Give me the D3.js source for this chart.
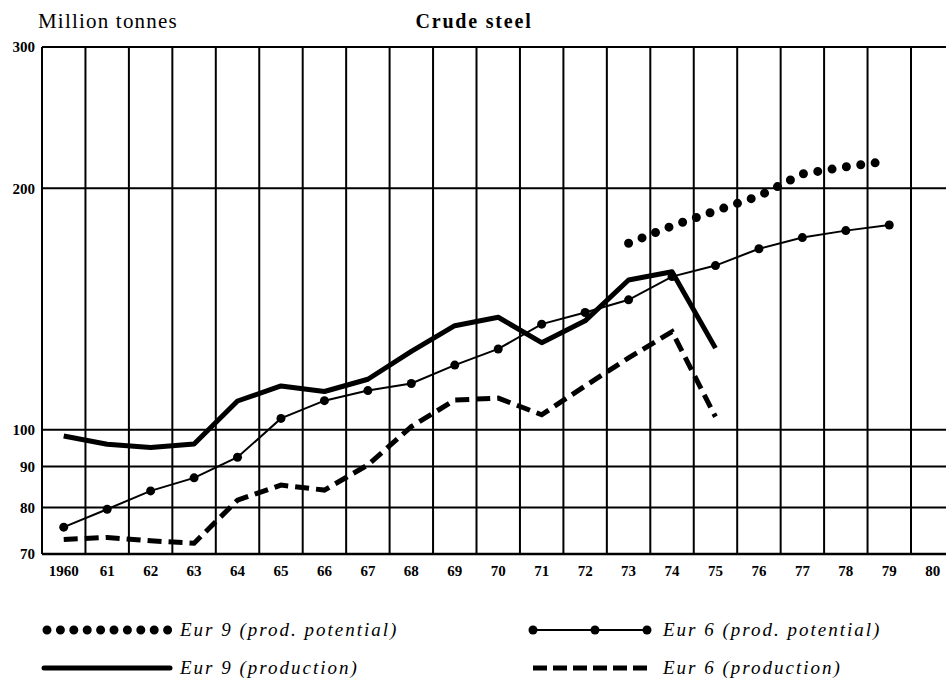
<!DOCTYPE html>
<html>
<head>
<meta charset="utf-8">
<script src="https://cdn.jsdelivr.net/npm/d3@7"></script>
<style>
  body { margin: 0; background: #fff; }
  svg { display: block; font-family: "Liberation Serif", "DejaVu Serif", serif; }
</style>
</head>
<body>
<svg id="chart"></svg>
<script>

// categories
var years = d3.range(1960, 1981);
var yTicks = [70, 80, 90, 100, 200, 300];

// series values (million tonnes)
var eur6PotentialYears = d3.range(1960, 1980);
var eur6Potential = [75.6, 79.6, 83.9, 87.1, 92.4, 103.3, 108.7, 111.9, 114.2, 120.4,
                     126.1, 135.4, 140.0, 145.2, 155.2, 160.2, 168.1, 173.6, 177.1, 180.0];

var eur9PotentialYears = d3.range(1973, 1980);
var eur9Potential = [170.8, 179.5, 187.4, 195.6, 208.4, 212.7, 216.3];

var productionYears = d3.range(1960, 1976);
var eur9Production = [98.2, 95.9, 95.0, 96.0, 108.6, 113.4, 111.6, 115.6, 125.2, 134.8,
                      138.1, 128.4, 136.7, 153.7, 157.4, 126.4];
var eur6Production = [73.0, 73.4, 72.7, 72.2, 81.7, 85.3, 84.1, 90.4, 100.9, 108.9,
                      109.5, 104.4, 113.4, 122.9, 132.5, 103.8];

var svgWidth = 946;
var svgHeight = 688;

var svg = d3.select('#chart')
    .attr("width", svgWidth)
    .attr("height", svgHeight);

var plotLeft = 42, plotTop = 47, plotBottom = 554, bandW = 43.45;

var xScale = d3.scaleBand()
    .domain(years)
    .range([plotLeft, plotLeft + bandW * years.length])
    .padding(0);

var yScale = d3.scaleLog()
    .domain([70, 300])
    .range([plotBottom, plotTop]);

function cx(yr) { return xScale(yr) + xScale.bandwidth() / 2; }

// grid
var grid = svg.append("g");

grid.selectAll("line.h")
    .data(yTicks)
    .enter()
    .append("line")
    .attr("x1", plotLeft)
    .attr("x2", svgWidth)
    .attr("y1", d => yScale(d))
    .attr("y2", d => yScale(d))
    .attr("stroke", "#000")
    .attr("stroke-width", d => d == 70 ? 2.5 : 2);

grid.selectAll("line.v")
    .data(years)
    .enter()
    .append("line")
    .attr("x1", d => xScale(d))
    .attr("x2", d => xScale(d))
    .attr("y1", plotTop)
    .attr("y2", plotBottom)
    .attr("stroke", "#000")
    .attr("stroke-width", 2);

// axes (labels only)
var yAxis = d3.axisLeft(yScale)
    .tickValues(yTicks)
    .tickFormat(d3.format("d"))
    .tickSize(0)
    .tickPadding(7);

svg.append("g")
    .attr("transform", "translate(" + plotLeft + ",0)")
    .call(yAxis)
    .call(g => g.select(".domain").remove())
    .selectAll("text")
    .attr("font-family", "Liberation Serif, serif")
    .attr("font-weight", "bold")
    .attr("font-size", 15)
    .attr("fill", "#000");

var xAxis = d3.axisBottom(xScale)
    .tickFormat(d => d == 1960 ? "1960" : String(d).slice(2))
    .tickSize(0)
    .tickPadding(11);

svg.append("g")
    .attr("transform", "translate(0," + plotBottom + ")")
    .call(xAxis)
    .call(g => g.select(".domain").remove())
    .selectAll("text")
    .attr("font-family", "Liberation Serif, serif")
    .attr("font-weight", "bold")
    .attr("font-size", 15)
    .attr("fill", "#000");

// titles
svg.append("text")
    .attr("x", 38)
    .attr("y", 28)
    .attr("font-size", 21)
    .attr("letter-spacing", 1.2)
    .text("Million tonnes");

svg.append("text")
    .attr("x", 474)
    .attr("y", 28)
    .attr("text-anchor", "middle")
    .attr("font-size", 20)
    .attr("font-weight", "bold")
    .attr("letter-spacing", 1.8)
    .text("Crude steel");

// lines
var line = d3.line()
    .x(d => cx(d[0]))
    .y(d => yScale(d[1]));

function pairs(xs, vs) { return xs.map((x, i) => [x, vs[i]]); }

var lines = svg.append("g").attr("fill", "none").attr("stroke", "#000");

lines.append("path")
    .datum(pairs(productionYears, eur6Production))
    .attr("d", line)
    .attr("stroke-width", 5)
    .attr("stroke-dasharray", "14,7");

lines.append("path")
    .datum(pairs(productionYears, eur9Production))
    .attr("d", line)
    .attr("stroke-width", 5)
    .attr("stroke-linejoin", "round");

lines.append("path")
    .datum(pairs(eur6PotentialYears, eur6Potential))
    .attr("d", line)
    .attr("stroke-width", 2);

lines.append("path")
    .datum(pairs(eur9PotentialYears, eur9Potential))
    .attr("d", line)
    .attr("stroke-width", 9)
    .attr("stroke-linecap", "round")
    .attr("stroke-dasharray", "0,14.5");

svg.append("g")
    .selectAll("circle")
    .data(pairs(eur6PotentialYears, eur6Potential))
    .enter()
    .append("circle")
    .attr("cx", d => cx(d[0]))
    .attr("cy", d => yScale(d[1]))
    .attr("r", 4.5)
    .attr("fill", "#000");

// legend
var legend = svg.append("g");

function legendText(x, y, label) {
    legend.append("text")
        .attr("x", x)
        .attr("y", y + 6)
        .attr("font-size", 19)
        .attr("font-style", "italic")
        .attr("letter-spacing", 2)
        .text(label);
}

legend.append("line")
    .attr("x1", 47).attr("x2", 168).attr("y1", 630).attr("y2", 630)
    .attr("stroke", "#000").attr("stroke-width", 9)
    .attr("stroke-linecap", "round").attr("stroke-dasharray", "0,13.4");
legendText(180, 630, "Eur 9 (prod. potential)");

legend.append("line")
    .attr("x1", 44).attr("x2", 170).attr("y1", 668).attr("y2", 668)
    .attr("stroke", "#000").attr("stroke-width", 5)
    .attr("stroke-linecap", "round");
legendText(180, 668, "Eur 9 (production)");

legend.append("line")
    .attr("x1", 533).attr("x2", 647).attr("y1", 630).attr("y2", 630)
    .attr("stroke", "#000").attr("stroke-width", 2);
legend.selectAll("circle")
    .data([533, 595, 647])
    .enter()
    .append("circle")
    .attr("cx", d => d).attr("cy", 630).attr("r", 4.5).attr("fill", "#000");
legendText(663, 630, "Eur 6 (prod. potential)");

legend.append("line")
    .attr("x1", 533).attr("x2", 647).attr("y1", 668).attr("y2", 668)
    .attr("stroke", "#000").attr("stroke-width", 5)
    .attr("stroke-dasharray", "14,6");
legendText(663, 668, "Eur 6 (production)");

</script>
</body>
</html>
